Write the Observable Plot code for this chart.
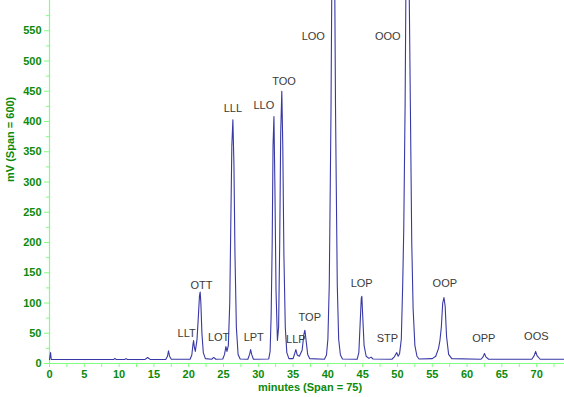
<!DOCTYPE html>
<html>
<head>
<meta charset="utf-8">
<script src="https://cdn.jsdelivr.net/npm/d3@7"></script>
<script src="https://cdn.jsdelivr.net/npm/@observablehq/plot@0.6"></script>
<style>
  html, body { margin: 0; padding: 0; background: #ffffff; }
  #chart { width: 564px; height: 397px; overflow: hidden; }
</style>
</head>
<body>
<div id="chart"></div>
<script>
// Chromatogram trace: retention time (minutes) and detector signal (mV)
const minutes = [
  0, 0.15, 0.25, 5, 9.2, 9.4, 9.6, 10.8, 11.0, 11.2, 13.7, 14.1, 14.5,
  16.7, 16.95, 17.1, 17.25, 17.5,
  20.2, 20.45, 20.6, 20.7, 20.8, 20.95, 21.2, 21.4, 21.55, 21.65, 21.75, 21.9, 22.1, 22.4,
  23.3, 23.6, 23.9,
  24.9, 25.15, 25.35, 25.5, 25.7, 25.9, 26.05, 26.2, 26.35, 26.5, 26.65, 26.85, 27.1, 27.4,
  28.5, 28.75, 28.9, 29.05, 29.3,
  31.5, 31.7, 31.85, 32.0, 32.12, 32.25, 32.38, 32.55, 32.75, 32.92, 33.08, 33.22, 33.38, 33.52, 33.68, 33.88, 34.1, 34.4,
  35.0, 35.25, 35.4, 35.6, 35.9, 36.3, 36.55, 36.7, 36.85, 37.1, 37.4,
  39.5, 39.8, 40.0, 40.2, 40.35, 40.45, 40.55, 40.78, 41.0, 41.1, 41.2, 41.35, 41.55, 41.8, 42.1,
  44.2, 44.45, 44.65, 44.8, 44.88, 45.0, 45.2, 45.5, 45.9, 46.2, 46.5,
  49.2, 49.55, 49.9, 50.1, 50.3, 50.55, 50.75, 50.9, 51.1, 51.2, 51.45, 51.7, 51.85, 52.05, 52.25, 52.5, 52.8, 53.1,
  55.0, 55.5, 55.9, 56.1, 56.3, 56.5, 56.68, 56.85, 57.05, 57.35, 57.8,
  62.0, 62.3, 62.5, 62.7, 63.1,
  69.3, 69.65, 69.85, 70.05, 70.5,
  74
];
const signal = [
  6.5, 18, 6.5, 6.5, 6.5, 8.5, 6.5, 6.5, 8, 6.5, 6.5, 10, 6.5,
  6.5, 12, 21, 12, 7,
  7, 14, 30, 38, 28, 20, 40, 80, 112, 118, 100, 50, 18, 8,
  7, 10, 7,
  7.5, 15, 28, 20, 30, 100, 230, 360, 403, 330, 180, 60, 15, 7.5,
  7, 15, 23, 15, 7,
  7.5, 20, 80, 200, 360, 408, 300, 120, 38, 60, 200, 380, 450, 360, 180, 60, 18, 8,
  8, 17, 23, 14, 12, 22, 48, 55, 40, 15, 8,
  7, 14, 40, 130, 300, 420, 600, 820, 600, 420, 300, 130, 40, 14, 7.5,
  7, 18, 70, 108, 111, 80, 30, 12, 8.5, 10.5, 7.5,
  7, 11, 18, 12, 16, 40, 130, 220, 430, 600, 900, 600, 430, 200, 90, 30, 12, 7.5,
  8, 12, 25, 38, 60, 100, 109, 95, 45, 15, 8,
  7, 11, 16.5, 11, 7,
  7, 13, 20, 13, 7,
  7
];

// Peak labels (triglyceride names) and where they sit (minutes, mV)
const peakNames  = ["LLT", "OTT", "LOT", "LLL", "LPT", "LLO", "TOO", "LLP", "TOP", "LOO", "OOO", "LOP", "STP", "OOP", "OPP", "OOS"];
const peakLabelX = [19.7, 21.85, 24.3, 26.35, 29.35, 30.8, 33.7, 35.4, 37.4, 37.9, 48.6, 44.85, 48.55, 56.8, 62.4, 69.95];
const peakLabelY = [50, 129, 43, 422, 43, 426, 466, 39, 76.5, 541, 541, 132, 41, 133, 42, 45];

// Axis ticks
const xTicks = d3.range(0, 75, 5);
const xMinorTicks = d3.range(2.5, 75, 5);
const yTicks = d3.range(0, 600, 50);
const yMinorTicks = d3.range(25, 600, 50);

const trace = minutes.map((t, i) => ({t, v: signal[i]}));
const labels = peakNames.map((name, i) => ({name, x: peakLabelX[i], y: peakLabelY[i]}));

const axisGreen = "#80ff80";
const textGreen = "#0b8a0b";

const chart = Plot.plot({
  width: 564,
  height: 397,
  marginLeft: 49,
  marginRight: 0,
  marginTop: 0,
  marginBottom: 34,
  style: {fontFamily: "Arial, 'Liberation Sans', sans-serif", fontSize: "11px", background: "#ffffff"},
  x: {domain: [0, 74]},
  y: {domain: [0, 600]},
  marks: [
    Plot.axisX({ticks: xMinorTicks, tickSize: 4, stroke: axisGreen, tickFormat: () => "", label: null}),
    Plot.axisX({ticks: xTicks, tickSize: 4, tickPadding: 3, stroke: axisGreen, fill: textGreen, fontWeight: "bold", label: null}),
    Plot.axisY({ticks: yMinorTicks, tickSize: 3, stroke: axisGreen, tickFormat: () => "", label: null}),
    Plot.axisY({ticks: yTicks, tickSize: 5, tickPadding: 3, stroke: axisGreen, fill: textGreen, fontWeight: "bold", label: null}),
    Plot.ruleY([0], {stroke: axisGreen, strokeWidth: 1.2}),
    Plot.ruleX([0], {stroke: axisGreen, strokeWidth: 1.2}),
    Plot.line(trace, {x: "t", y: "v", stroke: "#3838a6", strokeWidth: 1.1, clip: true}),
    Plot.text(labels, {x: "x", y: "y", text: "name", fill: "#3a3a3a", fontSize: 11}),
    Plot.text(["minutes (Span = 75)"], {frameAnchor: "bottom", dy: 27.5, dx: 3, fill: textGreen, fontWeight: "bold", fontSize: 11}),
    Plot.text(["mV (Span = 600)"], {frameAnchor: "left", dx: -39, rotate: -90, fill: textGreen, fontWeight: "bold", fontSize: 11})
  ]
});

document.getElementById("chart").appendChild(chart);
</script>
</body>
</html>
